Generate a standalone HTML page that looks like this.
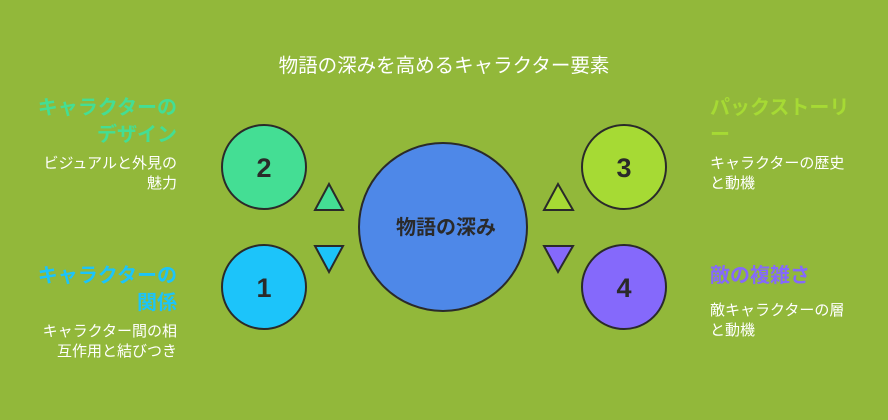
<!DOCTYPE html>
<html><head><meta charset="utf-8"><style>
body{margin:0;width:888px;height:420px;background:#92b83a;position:relative;overflow:hidden;font-family:"Liberation Sans","Noto Sans CJK JP",sans-serif}
.t{position:absolute;white-space:nowrap}
.h{font-weight:bold;font-size:20px;line-height:27px}
.d{color:#fff;font-size:15px;line-height:20px}
.r{text-align:right}
</style></head><body>
<div class="t" style="left:0;width:888px;top:49px;text-align:center;color:#fff;font-size:19.5px">物語の深みを高めるキャラクター要素</div>
<svg width="888" height="420" style="position:absolute;left:0;top:0">
<g stroke="#2a2a2a" stroke-width="2">
<circle cx="443" cy="227" r="84" fill="#4e88e8"/>
<circle cx="264" cy="167" r="42" fill="#44de94"/>
<circle cx="264" cy="287" r="42" fill="#1cc4fa"/>
<circle cx="624" cy="167" r="42" fill="#a6da34"/>
<circle cx="624" cy="287" r="42" fill="#8569fb"/>
<polygon points="315,210 343,210 329,184" fill="#44de94"/>
<polygon points="315,246 343,246 329,272" fill="#1cc4fa"/>
<polygon points="544,210 573,210 558,184" fill="#a6da34"/>
<polygon points="544,246 573,246 558,272" fill="#8569fb"/>
</g>
<g font-family="Liberation Sans, sans-serif" font-weight="bold" font-size="27" fill="#2a2a2a" text-anchor="middle">
<text x="264" y="177">2</text><text x="264" y="297">1</text><text x="624" y="177">3</text><text x="624" y="297">4</text>
</g>
<text x="446" y="234" text-anchor="middle" font-family="Liberation Sans, Noto Sans CJK JP, sans-serif" font-weight="bold" font-size="20" fill="#2a2a2a">物語の深み</text>
</svg>
<div class="t h r" style="right:711px;top:95px;color:#44de94">キャラクターの<br>デザイン</div>
<div class="t d r" style="right:711px;top:154px">ビジュアルと外見の<br>魅力</div>
<div class="t h r" style="right:711px;top:263px;color:#1cc4fa">キャラクターの<br>関係</div>
<div class="t d r" style="right:711px;top:322px">キャラクター間の相<br>互作用と結びつき</div>
<div class="t h" style="left:710px;top:95px;color:#a6da34">パックストーリ<br>ー</div>
<div class="t d" style="left:710px;top:154px">キャラクターの歴史<br>と動機</div>
<div class="t h" style="left:710px;top:263px;color:#8569fb">敵の複雑さ</div>
<div class="t d" style="left:710px;top:301px">敵キャラクターの層<br>と動機</div>
</body></html>
